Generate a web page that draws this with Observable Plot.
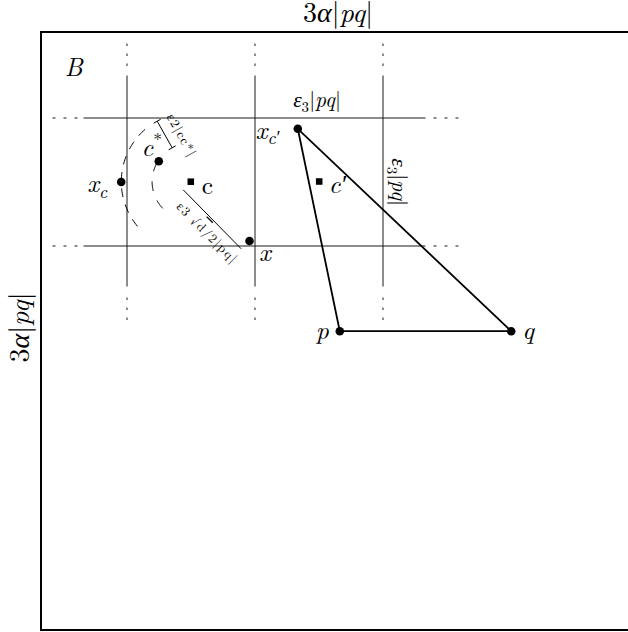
<!DOCTYPE html>
<html><head><meta charset="utf-8">
<script src="https://cdn.jsdelivr.net/npm/d3@7"></script>
<script src="https://cdn.jsdelivr.net/npm/@observablehq/plot@0.6"></script>
<style>
html,body{margin:0;padding:0;background:#fff;}
#chart svg{display:block;}
</style>
</head><body><div id="chart"></div>
<script>
// ---- data: diagram units (px from the top-left corner of box B, y downward) ----
const boxCorners = {x1: 0, y1: 0, x2: 598, y2: 598};
const gridColumns = [85.5, 213.5, 341.5];
const gridRows = [85.5, 213.5];
const columnSolid = [43, 254];
const columnDotted = [[11, 36], [265, 290]];
const rowSolid = [42, 384];
const rowDotted = [[11, 36], [392, 417]];

const pointNames = ["x_c", "c*", "x", "x_c'", "p", "q"];
const pointX = [79.7, 117.3, 208, 256.3, 298.3, 469.7];
const pointY = [149.5, 128.7, 208.5, 96.3, 298.7, 298.7];

const centerNames = ["c", "c'"];
const centerX = [149.3, 277.7];
const centerY = [149.2, 149];

const triangleOrder = ["x_c'", "p", "q", "x_c'"];

const arcNames = ["outer", "inner"];
const arcRadius = [69.5, 38.7];
const arcFrom = [228.5, 137];   // degrees, around centre c
const arcTo = [134, 213];

const bracketStart = [115.7, 88.7];
const bracketEnd = [130.7, 115.3];
const radiusStart = [141.7, 157.3];
const radiusEnd = [199.7, 216.3];

// point labels (baseline anchored)
const pointLabels = ["B", "x_{c}", "c^{*}", "[c]", "x_{c′}", "c′", "x", "p", "q"];
const pointLabelX = [32.3, 55.7, 110.3, 166, 226, 296, 223.3, 280.7, 486.5];
const pointLabelY = [43, 159.7, 123, 161.3, 106.3, 160.7, 228, 306.3, 306.3];

// side labels of box B (baseline anchored)
const sideLabels = ["[3]α[|]pq[|]", "[3]α[|]pq[|]"];
const sideLabelX = [296.5, -12.7];
const sideLabelY = [-10.8, 295];
const sideLabelRotate = [0, -90];

// grid-spacing labels (baseline anchored)
const gridLabels = ["ε_{3}[|]pq[|]", "ε_{3}[|]pq[|]"];
const gridLabelX = [275.5, 350.7];
const gridLabelY = [74.7, 149.7];
const gridLabelRotate = [0, 90];

// small distance labels (centre anchored)
const distLabels = ["ε2|cc*|", "ε3 √~{d}/2|pq|"];
const distLabelX = [140, 165.7];
const distLabelY = [103, 200.5];
const distLabelRotate = [61, 45];

// ---- tables ----
const byName = new Map(pointNames.map((n, i) => [n, {name: n, x: pointX[i], y: pointY[i]}]));
const points = pointNames.map(n => byName.get(n));
const centers = centerNames.map((n, i) => ({name: n, x: centerX[i], y: centerY[i]}));
const triangle = triangleOrder.map(n => byName.get(n));

const solidSegs = [
  ...gridColumns.map(x => ({x1: x, x2: x, y1: columnSolid[0], y2: columnSolid[1]})),
  ...gridRows.map(y => ({y1: y, y2: y, x1: rowSolid[0], x2: rowSolid[1]}))
];
const dottedCols = gridColumns.flatMap(x => columnDotted.map(([a, b]) => ({x1: x, x2: x, y1: a, y2: b})));
const dottedRows = gridRows.flatMap(y => rowDotted.map(([a, b]) => ({y1: y, y2: y, x1: a, x2: b})));

const cx = centerX[0], cy = centerY[0];
const arcPts = arcNames.flatMap((name, k) =>
  d3.range(0, 61).map(i => {
    const t = (arcFrom[k] + (arcTo[k] - arcFrom[k]) * i / 60) * Math.PI / 180;
    return {arc: name, x: cx + arcRadius[k] * Math.cos(t), y: cy + arcRadius[k] * Math.sin(t)};
  }));

// bracket with end caps
const bdx = bracketEnd[0] - bracketStart[0], bdy = bracketEnd[1] - bracketStart[1];
const blen = Math.hypot(bdx, bdy), nx = -bdy / blen * 4, ny = bdx / blen * 4;
const bracketSegs = [
  {x1: bracketStart[0], y1: bracketStart[1], x2: bracketEnd[0], y2: bracketEnd[1]},
  {x1: bracketStart[0] - nx, y1: bracketStart[1] - ny, x2: bracketStart[0] + nx, y2: bracketStart[1] + ny},
  {x1: bracketEnd[0] - nx, y1: bracketEnd[1] - ny, x2: bracketEnd[0] + nx, y2: bracketEnd[1] + ny},
  {x1: radiusStart[0], y1: radiusStart[1], x2: radiusEnd[0], y2: radiusEnd[1]}
];

const mk = (texts, xs, ys, rs) => texts.map((t, i) => ({t, x: xs[i], y: ys[i], r: rs ? rs[i] : 0}));

const seg = {x1: "x1", y1: "y1", x2: "x2", y2: "y2"};
const FONT = '"Latin Modern Roman", "Liberation Serif", serif';

const chart = Plot.plot({
  width: 628, height: 632, margin: 0,
  x: {domain: [-41, 587], range: [0, 628], axis: null},
  y: {domain: [-32, 600], range: [0, 632], axis: null},
  style: {background: "white", color: "black"},
  marks: [
    Plot.rect([boxCorners], {...seg, fill: "none", stroke: "black", strokeWidth: 2}),
    Plot.link(solidSegs, {...seg, stroke: "#1a1a1a", strokeWidth: 1}),
    Plot.link(dottedCols, {...seg, stroke: "#1a1a1a", strokeWidth: 1, strokeDasharray: "2.5,7.5"}),
    Plot.link(dottedRows, {...seg, stroke: "#1a1a1a", strokeWidth: 1, strokeDasharray: "3,8"}),
    Plot.line(arcPts.filter(d => d.arc === "outer"), {x: "x", y: "y", stroke: "black", strokeWidth: 1, strokeDasharray: "8,8.5"}),
    Plot.line(arcPts.filter(d => d.arc === "inner"), {x: "x", y: "y", stroke: "black", strokeWidth: 1, strokeDasharray: "9,11"}),
    Plot.link(bracketSegs, {...seg, stroke: "black", strokeWidth: 1}),
    Plot.line(triangle, {x: "x", y: "y", stroke: "black", strokeWidth: 1.8, strokeLinejoin: "round"}),
    Plot.dot(points, {x: "x", y: "y", r: 4.3, fill: "black"}),
    Plot.dot(centers, {x: "x", y: "y", symbol: "square", r: 3.7, fill: "black"}),
    Plot.text(mk(pointLabels, pointLabelX, pointLabelY), {x: "x", y: "y", text: "t", fontSize: 25.5, fontStyle: "italic", textAnchor: "middle", lineAnchor: "bottom"}),
    Plot.text(mk(sideLabels, sideLabelX, sideLabelY, sideLabelRotate), {x: "x", y: "y", text: "t", rotate: "r", fontSize: 28, fontStyle: "italic", textAnchor: "middle", lineAnchor: "bottom"}),
    Plot.text(mk(gridLabels, gridLabelX, gridLabelY, gridLabelRotate), {x: "x", y: "y", text: "t", rotate: "r", fontSize: 21.5, fontStyle: "italic", textAnchor: "middle", lineAnchor: "bottom"}),
    Plot.text(mk(distLabels, distLabelX, distLabelY, distLabelRotate), {x: "x", y: "y", text: "t", rotate: "r", fontSize: 13, textAnchor: "middle", lineAnchor: "middle"})
  ]
});

document.getElementById("chart").appendChild(chart);

// rich text: _{sub}, ^{sup}, [upright], ~{overline}
function richText(root) {
  d3.select(root).selectAll("text").each(function () {
    const src = this.textContent;
    this.style.fontFamily = FONT;
    const fs = parseFloat(getComputedStyle(this).fontSize) || 16;
    if (fs <= 14) this.style.letterSpacing = "1.5px";
    if (!/[_^\[~]/.test(src)) return;
    const el = d3.select(this);
    el.text(null);
    let cur = 0, m;
    const re = /_\{([^}]*)\}|\^\{([^}]*)\}|\[([^\]]*)\]|~\{([^}]*)\}|([^_^\[~]+)/g;
    while ((m = re.exec(src))) {
      let txt, off = 0, size = null, style = null, deco = null;
      if (m[1] !== undefined) { txt = m[1]; off = 0.22 * fs; size = 0.7 * fs; if (/^\d+$/.test(txt)) style = "normal"; }
      else if (m[2] !== undefined) { txt = m[2]; off = -0.36 * fs; size = 0.7 * fs; style = "normal"; }
      else if (m[3] !== undefined) { txt = m[3]; style = "normal"; }
      else if (m[4] !== undefined) { txt = m[4]; deco = "overline"; }
      else txt = m[5];
      const t = el.append("tspan").text(txt);
      t.style("font-family", FONT);
      if (off !== cur) { t.attr("dy", (off - cur).toFixed(2)); cur = off; }
      if (size) t.attr("font-size", size.toFixed(1));
      if (style) t.attr("font-style", style);
      if (deco) t.style("text-decoration", deco);
    }
  });
}
richText(chart);
</script>
</body></html>
